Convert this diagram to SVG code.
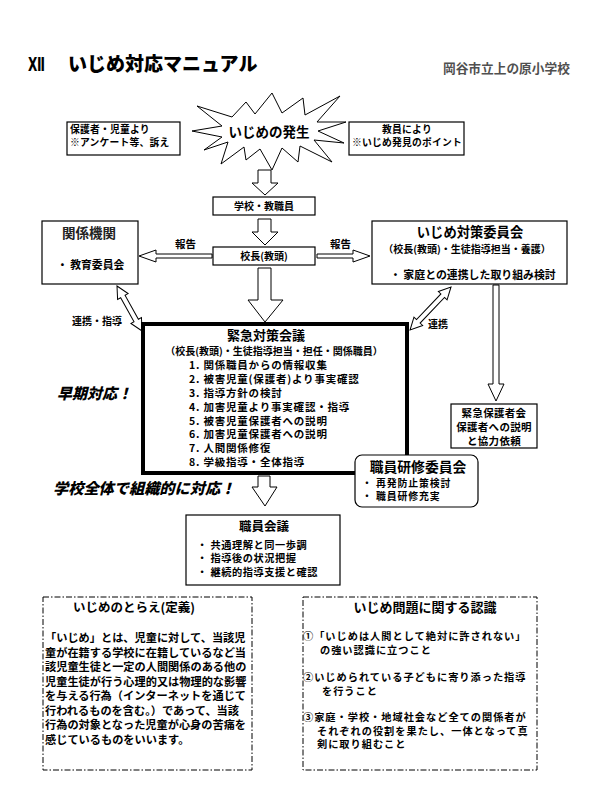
<svg xmlns="http://www.w3.org/2000/svg" width="609" height="788" viewBox="0 0 609 788">
<style>
.t{font-family:"Noto Sans CJK JP","Noto Sans",sans-serif;font-weight:bold;fill:#000}
.m{text-anchor:middle}
.box{fill:#fff;stroke:#000;stroke-width:1.2}
.arr{fill:#fff;stroke:#000;stroke-width:1}
.dash{fill:none;stroke:#000;stroke-width:1;stroke-dasharray:6 2 1.5 2}
.it{font-style:italic;font-weight:900}
.k{font-size:10.5px;letter-spacing:0.8px}
.r{font-size:10.2px;letter-spacing:1px}
</style>
<rect width="609" height="788" fill="#fff"/>
<g id="title">
<text x="28" y="71" font-family="'DejaVu Sans','Noto Sans CJK JP',sans-serif" font-weight="bold" font-size="19" textLength="17" lengthAdjust="spacingAndGlyphs">Ⅻ</text>
<text class="t" x="68" y="70.5" font-size="19" style="font-weight:900">いじめ対応マニュアル</text>
<text class="t" x="443" y="72.8" font-size="12.7" style="fill:#505050">岡谷市立上の原小学校</text>
</g>
<g id="connectors">
<polygon class="arr" points="258,170 271,170 271,183 278,183 265,195 252,183 258,183"/>
<polygon class="arr" points="258,219 271,219 271,232 278,232 265,245 252,232 258,232"/>
<polygon class="arr" points="212,254 156,254 156,250 139,256 156,262 156,258 212,258"/>
<polygon class="arr" points="317,254 353,254 353,250 370,256 353,262 353,258 317,258"/>
<polygon class="arr" points="258,268 271,268 271,300 283,300 265,322 248,300 258,300"/>
<polygon class="arr" points="493,285 499,285 499,384 504,384 496,401 488,384 493,384"/>
<polygon class="arr" points="258,476 270,476 270,487 277,487 265,506 252,487 258,487"/>
<polygon class="arr" transform="translate(117,286) rotate(60.9)" points="0,0 12,-6 12,-2.5 39.5,-2.5 39.5,-6 51.5,0 39.5,6 39.5,2.5 12,2.5 12,6"/>
<polygon class="arr" transform="translate(451,287) rotate(133.6)" points="0,0 12,-6 12,-2.5 47.4,-2.5 47.4,-6 59.4,0 47.4,6 47.4,2.5 12,2.5 12,6"/>
<text class="t" x="175" y="248" font-size="10.5">報告</text>
<text class="t" x="330" y="248" font-size="10.5">報告</text>
<text class="t" x="72" y="325" font-size="10">連携・指導</text>
<text class="t" x="428" y="328" font-size="10">連携</text>
</g>
<g id="hassei">
<polygon fill="#fff" stroke="#000" stroke-width="1" points="192,131 222,126 197,106 232,117 246,102 255,114 272,93 282,113 303,98 305,115 340,96 317,122 346,122 318,131 344,143 314,140 332,162 300,146 298,162 282,148 272,170 260,149 246,160 244,147 221,164 228,142 204,150 222,137"/>
<text class="t m" x="269" y="137" font-size="13.5">いじめの発生</text>
</g>
<g id="hogosha">
<rect class="box" x="67" y="122" width="113" height="33"/>
<text class="t" x="70" y="132.5" font-size="9.8" letter-spacing="0.2">保護者・児童より</text>
<text class="t" x="70" y="146" font-size="9.8" letter-spacing="0.2">※アンケート等、訴え</text>
</g>
<g id="kyoin">
<rect class="box" x="349" y="122" width="115" height="33"/>
<text class="t m" x="407" y="132.5" font-size="9.8" letter-spacing="0.2">教員により</text>
<text class="t m" x="407" y="146" font-size="9.8" letter-spacing="0.2">※いじめ発見のポイント</text>
</g>
<g id="gakko">
<rect class="box" x="213" y="197" width="102" height="18"/>
<text class="t m" x="264" y="210" font-size="10">学校・教職員</text>
</g>
<g id="kocho">
<rect class="box" x="213" y="247" width="102" height="18"/>
<text class="t m" x="264" y="260" font-size="10">校長(教頭)</text>
</g>
<g id="kankei">
<rect class="box" x="42" y="221" width="96" height="63"/>
<text class="t m" x="89" y="238" font-size="13.5" style="fill:#222">関係機関</text>
<text class="t" x="57" y="269" font-size="10.8">・ 教育委員会</text>
</g>
<g id="taisaku">
<rect class="box" x="372" y="221" width="195" height="63"/>
<text class="t m" x="470" y="237" font-size="13.3">いじめ対策委員会</text>
<text class="t m" x="467" y="253" font-size="10">（校長(教頭)・生徒指導担当・養護）</text>
<text class="t" x="390" y="279" font-size="10.9">・ 家庭との連携した取り組み検討</text>
</g>
<g id="kinkyu">
<rect fill="#fff" stroke="#000" stroke-width="4" x="143" y="324" width="264" height="149"/>
<text class="t m" x="266" y="339.5" font-size="13">緊急対策会議</text>
<text class="t m" x="274" y="355" font-size="10">（校長(教頭)・生徒指導担当・担任・関係職員）</text>
<text class="t k" x="189" y="369">1. 関係職員からの情報収集</text>
<text class="t k" x="189" y="383">2. 被害児童(保護者)より事実確認</text>
<text class="t k" x="189" y="397">3. 指導方針の検討</text>
<text class="t k" x="189" y="410.5">4. 加害児童より事実確認・指導</text>
<text class="t k" x="189" y="424.5">5. 被害児童保護者への説明</text>
<text class="t k" x="189" y="438">6. 加害児童保護者への説明</text>
<text class="t k" x="189" y="452">7. 人間関係修復</text>
<text class="t k" x="189" y="466">8. 学級指導・全体指導</text>
</g>
<g id="soki">
<text class="t it" x="57" y="399" font-size="15">早期対応！</text>
</g>
<g id="zentai">
<text class="t it" x="53" y="494" font-size="15.2">学校全体で組織的に対応！</text>
</g>
<g id="kinkyu-hogosha">
<rect class="box" x="451" y="404" width="86" height="44"/>
<text class="t m" x="494" y="417" font-size="10.5" letter-spacing="0.3">緊急保護者会</text>
<text class="t m" x="494" y="431" font-size="10.5" letter-spacing="0.3">保護者への説明</text>
<text class="t m" x="494" y="445" font-size="10.5" letter-spacing="0.3">と協力依頼</text>
</g>
<g id="kenshu">
<rect class="box" x="355" y="455" width="123" height="52" rx="7"/>
<text class="t m" x="418" y="472" font-size="13.8">職員研修委員会</text>
<text class="t" x="362" y="486.5" font-size="9.9" letter-spacing="0.9">・ 再発防止策検討</text>
<text class="t" x="362" y="499.5" font-size="9.9" letter-spacing="0.9">・ 職員研修充実</text>
</g>
<g id="shokuin">
<rect class="box" x="186" y="515" width="154" height="70"/>
<text class="t m" x="264" y="531" font-size="12.5">職員会議</text>
<text class="t" x="197" y="548.5" font-size="10.2" letter-spacing="0.55">・ 共通理解と同一歩調</text>
<text class="t" x="197" y="562" font-size="10.2" letter-spacing="0.55">・ 指導後の状況把握</text>
<text class="t" x="197" y="575.5" font-size="10.2" letter-spacing="0.55">・ 継続的指導支援と確認</text>
</g>
<g id="teigi">
<rect class="dash" x="43" y="597" width="209" height="173"/>
<text class="t m" x="134" y="612" font-size="12.5">いじめのとらえ(定義)</text>
<text class="t" x="45" y="642" font-size="11.2">「いじめ」とは、児童に対して、当該児</text>
<text class="t" x="45" y="656.5" font-size="11.2">童が在籍する学校に在籍しているなど当</text>
<text class="t" x="45" y="671" font-size="11.2">該児童生徒と一定の人間関係のある他の</text>
<text class="t" x="45" y="685.5" font-size="11.2">児童生徒が行う心理的又は物理的な影響</text>
<text class="t" x="45" y="700" font-size="11.2">を与える行為（インターネットを通じて</text>
<text class="t" x="45" y="714.5" font-size="11.2">行われるものを含む。）であって、当該</text>
<text class="t" x="45" y="729" font-size="11.2">行為の対象となった児童が心身の苦痛を</text>
<text class="t" x="45" y="743.5" font-size="11.2">感じているものをいいます。</text>
</g>
<g id="ninshiki">
<rect class="dash" x="303" y="597" width="234" height="173"/>
<text class="t m" x="425" y="612" font-size="13">いじめ問題に関する認識</text>
<text class="t r" x="303" y="640">①「いじめは人間として絶対に許されない」</text>
<text class="t r" x="320" y="653.5">の強い認識に立つこと</text>
<text class="t r" x="303" y="681">②いじめられている子どもに寄り添った指導</text>
<text class="t r" x="322" y="694.5">を行うこと</text>
<text class="t r" x="303" y="721">③家庭・学校・地域社会など全ての関係者が</text>
<text class="t r" x="317" y="734.5">それぞれの役割を果たし、一体となって真</text>
<text class="t r" x="317" y="748">剣に取り組むこと</text>
</g>
</svg>
